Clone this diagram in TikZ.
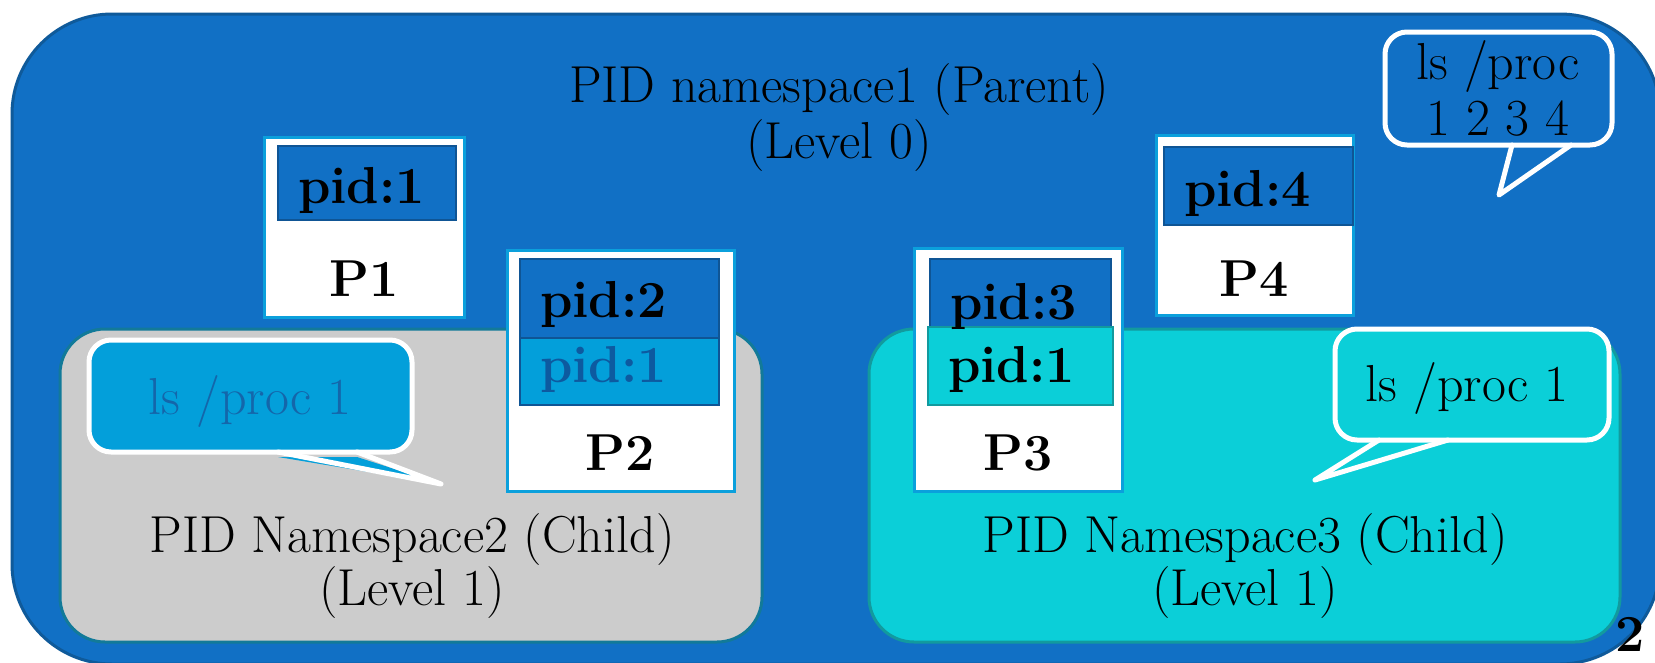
\documentclass[tikz,border=0pt]{standalone}
\definecolor{outerfill}{HTML}{1170C5}
\definecolor{outerline}{HTML}{0F5A9A}
\definecolor{boxline}{HTML}{0BA0DC}
\definecolor{pidfill}{HTML}{1170C5}
\definecolor{pidline}{HTML}{0F5595}
\definecolor{lightpid}{HTML}{039FDA}
\definecolor{lightpidtext}{HTML}{0D5AA0}
\definecolor{grayfill}{HTML}{CCCCCC}
\definecolor{grayline}{HTML}{127A99}
\definecolor{cyanfill}{HTML}{0BCFD8}
\definecolor{cyanline}{HTML}{129A9E}
\definecolor{bubbletext}{HTML}{1466AA}
\begin{document}
\begin{tikzpicture}[x=1pt,y=-1pt,
  rtext/.style={font=\fontsize{52}{56}\selectfont, inner sep=0pt, anchor=base},
  btext/.style={font=\fontsize{52}{56}\selectfont\bfseries, inner sep=0pt},
  region/.style={line width=3pt, inner sep=0pt},
  procbox/.style={draw=boxline, line width=3pt, fill=white, inner sep=0pt},
  pidbox/.style={draw=pidline, line width=2.5pt, fill=pidfill, inner sep=0pt},
  lightbox/.style={draw=pidline, line width=2.5pt, fill=lightpid, inner sep=0pt},
  cyanbox/.style={draw=cyanline, line width=2.5pt, fill=cyanfill, inner sep=0pt},
  bubble/.style={draw=white, line width=5pt, rounded corners=22pt, inner sep=0pt},
  tailline/.style={draw=white, line width=5pt, line join=round, line cap=round},
]
\useasboundingbox (0,0) rectangle (1655,662);
\fill[white] (0,0) rectangle (1655,662);

% outer namespace
\node[region, draw=outerline, fill=outerfill, rounded corners=100pt,
      minimum width=1648pt, minimum height=650pt] (outer) at (836,339) {};
\node[rtext] (t1a) at (839,102) {PID namespace1 (Parent)};
\node[rtext] (t1b) at (839,158) {(Level 0)};

% child namespaces
\node[region, draw=grayline, fill=grayfill, rounded corners=45pt,
      minimum width=702pt, minimum height=313pt] (ns2) at (411,485.5) {};
\node[region, draw=cyanline, fill=cyanfill, rounded corners=45pt,
      minimum width=751pt, minimum height=313pt] (ns3) at (1244.5,485.5) {};
\node[rtext] (t2a) at (412,552) {PID Namespace2 (Child)};
\node[rtext] (t2b) at (412,605) {(Level 1)};
\node[rtext] (t3a) at (1245,552) {PID Namespace3 (Child)};
\node[rtext] (t3b) at (1245,605) {(Level 1)};

% P1
\node[procbox, minimum width=200pt, minimum height=180pt] (p1) at (364,227) {};
\node[pidbox, minimum width=178pt, minimum height=74pt] (p1a) at (367,183) {};
\node[btext, anchor=base west] (p1at) at (298,203) {pid:1};
\node[btext, anchor=base] (p1t) at (364,296) {P1};

% P2
\node[procbox, minimum width=227pt, minimum height=241pt] (p2) at (620.5,370.5) {};
\node[lightbox, minimum width=199pt, minimum height=78pt] (p2b) at (619.5,366) {};
\node[pidbox, minimum width=199pt, minimum height=79pt] (p2a) at (619.5,298.5) {};
\node[btext, anchor=base west] (p2at) at (540,317) {pid:2};
\node[btext, anchor=base west, text=lightpidtext] (p2bt) at (540,382) {pid:1};
\node[btext, anchor=base] (p2t) at (620,470) {P2};

% P3
\node[procbox, minimum width=208pt, minimum height=243pt] (p3) at (1018,369.5) {};
\node[pidbox, minimum width=181pt, minimum height=79pt] (p3a) at (1020.5,298.5) {};
\node[cyanbox, minimum width=185pt, minimum height=78pt] (p3b) at (1020.5,366) {};
\node[btext, anchor=base west] (p3at) at (950,319) {pid:3};
\node[btext, anchor=base west] (p3bt) at (948,382) {pid:1};
\node[btext, anchor=base] (p3t) at (1018,470) {P3};

% P4
\node[procbox, minimum width=197pt, minimum height=180pt] (p4) at (1254.5,225) {};
\node[pidbox, minimum width=189pt, minimum height=78pt] (p4a) at (1258.5,186) {};
\node[btext, anchor=base west] (p4at) at (1184,206) {pid:4};
\node[btext, anchor=base] (p4t) at (1254,296) {P4};

% top bubble
\node[bubble, fill=outerfill, minimum width=227pt, minimum height=113pt] (b1) at (1498.5,88.5) {};
\coordinate (b1l) at (1512,145);
\coordinate (b1r) at (1571,145);
\coordinate (b1tip) at (1499,195);
\fill[outerfill] ([yshift=-5pt]b1l) -- (b1tip) -- ([yshift=-5pt]b1r) -- cycle;
\draw[tailline] (b1l) -- (b1tip) -- (b1r);
\node[rtext] (b1t1) at (1498,79) {ls /proc};
\node[rtext] (b1t2) at (1498,135) {1 2 3 4};

% gray bubble
\node[bubble, fill=lightpid, minimum width=323pt, minimum height=112pt] (b2) at (250.5,396) {};
\coordinate (b2l) at (278,452);
\coordinate (b2r) at (357,452);
\coordinate (b2tip) at (441,484);
\fill[lightpid] ([yshift=-5pt]b2l) -- (b2tip) -- ([yshift=-5pt]b2r) -- cycle;
\draw[tailline] (b2l) -- (b2tip) -- (b2r);
\node[rtext, text=bubbletext] (b2t) at (250,414) {ls /proc 1};

% cyan bubble
\node[bubble, fill=cyanfill, minimum width=274pt, minimum height=111pt] (b3) at (1472,384.5) {};
\coordinate (b3l) at (1379,440);
\coordinate (b3r) at (1448,440);
\coordinate (b3tip) at (1315,480);
\fill[cyanfill] ([yshift=-5pt]b3l) -- (b3tip) -- ([yshift=-5pt]b3r) -- cycle;
\draw[tailline] (b3l) -- (b3tip) -- (b3r);
\node[rtext] (b3t) at (1467,401) {ls /proc 1};

% page number
\node[btext, anchor=base west] (pg) at (1615,651) {2};
\end{tikzpicture}
\end{document}
